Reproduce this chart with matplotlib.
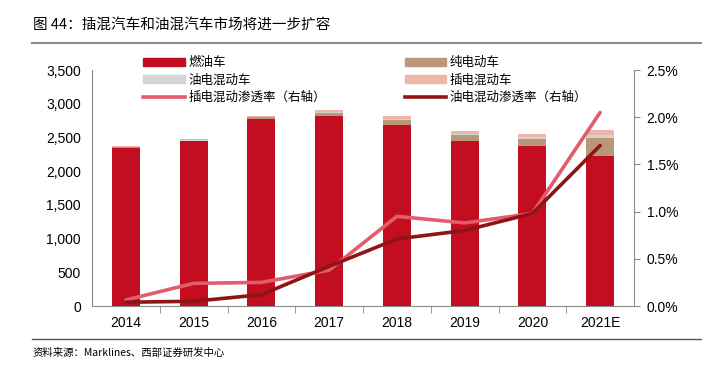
import matplotlib.pyplot as plt
import matplotlib.patches as mpatches
import matplotlib.lines as mlines
import numpy as np

plt.rcParams['font.family'] = ['Noto Sans CJK SC', 'DejaVu Sans']

years = ['2014', '2015', '2016', '2017', '2018', '2019', '2020', '2021E']
fuel = [2345, 2440, 2775, 2820, 2685, 2450, 2378, 2230]
bev = [8, 10, 25, 40, 75, 80, 100, 265]
hev = [5, 8, 10, 12, 15, 25, 25, 45]
phev = [15, 22, 15, 35, 50, 40, 45, 70]
phev_rate = [0.064, 0.24, 0.25, 0.38, 0.95, 0.88, 0.98, 2.05]
hev_rate = [0.04, 0.05, 0.12, 0.42, 0.71, 0.80, 0.98, 1.70]

c_fuel = '#C20E1F'
c_bev = '#B9987A'
c_hev = '#D4D4D4'
c_phev = '#EDB6A9'
c_phev_line = '#E25C6C'
c_hev_line = '#8E1416'
grey = '#8C8C8C'
num_font = ['Liberation Sans', 'DejaVu Sans']

fig = plt.figure(figsize=(7.02, 3.77), dpi=100)
ax = fig.add_axes([92 / 702, 1 - 306 / 377, 542 / 702, 236 / 377])
x = np.arange(len(years))
w = 0.41
b1 = np.array(fuel)
b2 = b1 + np.array(bev)
b3 = b2 + np.array(hev)
ax.bar(x, fuel, w, color=c_fuel, zorder=2)
ax.bar(x, bev, w, bottom=b1, color=c_bev, zorder=2)
ax.bar(x, hev, w, bottom=b2, color=c_hev, zorder=2)
ax.bar(x, phev, w, bottom=b3, color=c_phev, zorder=2)
ax.set_xlim(-0.5, len(years) - 0.5)
ax.set_ylim(0, 3500)
ax.set_yticks(np.arange(0, 3501, 500))
ax.set_yticklabels([f'{v:,}' for v in range(0, 3501, 500)], family=num_font)
ax.set_xticks(x)
ax.set_xticklabels(years, family=num_font)
ax.set_xticks(np.arange(0.5, len(years) - 0.5, 1), minor=True)
ax.tick_params(axis='x', which='major', length=0, pad=7, labelsize=10)
ax.tick_params(axis='x', which='minor', length=5, color=grey, direction='out')
ax.tick_params(axis='y', length=0, labelsize=10, pad=8)
for s in ['top', 'right']:
    ax.spines[s].set_visible(False)
ax.spines['left'].set_color(grey)
ax.spines['bottom'].set_color(grey)

ax2 = ax.twinx()
ax2.plot(x, phev_rate, color=c_phev_line, lw=2.6, solid_capstyle='round')
ax2.plot(x, hev_rate, color=c_hev_line, lw=2.6, solid_capstyle='round')
ax2.set_ylim(0, 2.5)
ax2.set_yticks(np.arange(0, 2.51, 0.5))
ax2.set_yticklabels([f'{v:.1f}%' for v in np.arange(0, 2.51, 0.5)], family=num_font)
ax2.tick_params(axis='y', length=4, color=grey, labelsize=10, pad=5)
for s in ['top', 'left', 'bottom']:
    ax2.spines[s].set_visible(False)
ax2.spines['right'].set_color(grey)

handles = [
    mpatches.Patch(color=c_fuel, label='燃油车'),
    mpatches.Patch(color=c_hev, label='油电混动车'),
    mlines.Line2D([], [], color=c_phev_line, lw=2.6, label='插电混动渗透率（右轴）'),
    mpatches.Patch(color=c_bev, label='纯电动车'),
    mpatches.Patch(color=c_phev, label='插电混动车'),
    mlines.Line2D([], [], color=c_hev_line, lw=2.6, label='油电混动渗透率（右轴）'),
]
fig.legend(handles=handles, ncol=2, loc='upper left',
           bbox_to_anchor=(137 / 702, 1 - 50 / 377), frameon=False,
           fontsize=9, handlelength=3.3, handleheight=0.6, handletextpad=0.3,
           columnspacing=6.3, labelspacing=0.35, borderpad=0)

fig.text(33 / 702, 1 - 25 / 377, '图 44：插混汽车和油混汽车市场将进一步扩容',
         fontsize=10.5, va='center', ha='left')
fig.add_artist(mlines.Line2D([32 / 702, 1], [1 - 43 / 377, 1 - 43 / 377],
                             color='#8A8A8A', lw=1.5))
fig.add_artist(mlines.Line2D([32 / 702, 1], [1 - 339 / 377, 1 - 339 / 377],
                             color='#555555', lw=1.0))
fig.text(33 / 702, 1 - 353 / 377, '资料来源：Marklines、西部证券研发中心',
         fontsize=7.5, va='center', ha='left')

fig.savefig('out.png', dpi=100)
